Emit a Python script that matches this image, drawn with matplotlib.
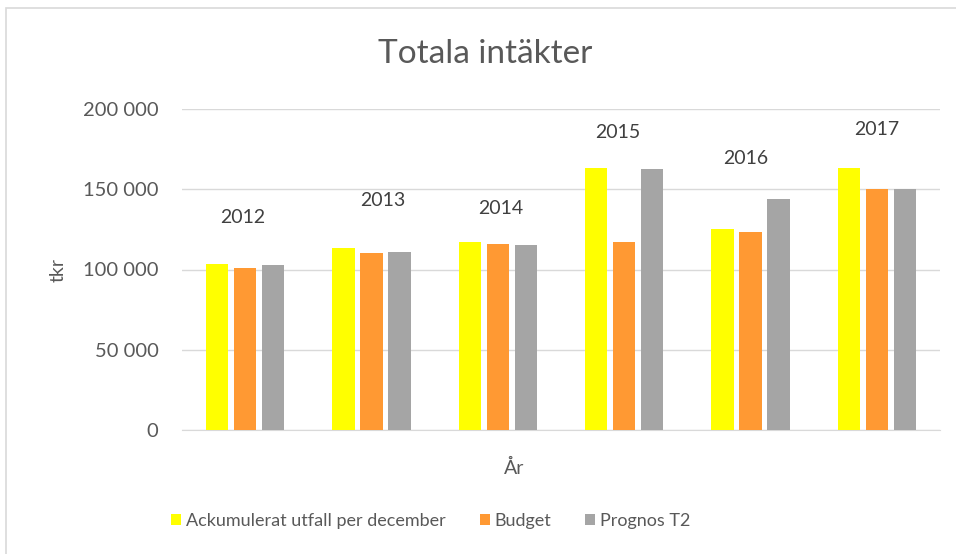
import numpy as np
import matplotlib.pyplot as plt
from matplotlib.patches import Rectangle

plt.rcParams["font.family"] = ["Lato", "DejaVu Sans"]

years = ["2012", "2013", "2014", "2015", "2016", "2017"]
utfall = [103500, 113500, 117300, 163000, 125000, 163500]
budget = [101000, 110000, 116000, 117300, 123500, 150300]
prognos = [102500, 111000, 115000, 162500, 143700, 150300]
series_names = ["Ackumulerat utfall per december", "Budget", "Prognos T2"]
colors = ["#FFFF00", "#FF9933", "#A5A5A5"]

# manually placed year labels in the original (value height, x nudge)
label_y = [132500, 143000, 138000, 185500, 169000, 187000]
label_dx = [-0.02, 0.09, 0.02, -0.05, -0.04, 0.0]

text_col = "#595959"

fig = plt.figure(figsize=(9.56, 5.54), dpi=100)
fig.patches.append(Rectangle((6 / 956, -0.1), 1.2, 1.1 - 8 / 554, transform=fig.transFigure,
                             fill=False, edgecolor="#d9d9d9", linewidth=1.2))
ax = fig.add_axes([182 / 956, 1 - 430 / 554, 758 / 956, 321 / 554])

x = np.arange(len(years))
width = 0.175
step = 0.222
for i, (vals, name, col) in enumerate(zip([utfall, budget, prognos], series_names, colors)):
    ax.bar(x + (i - 1) * step, vals, width, color=col, label=name, zorder=3)

for i, yr in enumerate(years):
    ax.text(x[i] + label_dx[i], label_y[i], yr, ha="center", va="center",
            fontsize=14, color="#404040")

ax.set_xlim(-0.5, 5.5)
ax.set_ylim(0, 200000)
ax.set_yticks(np.arange(0, 200001, 50000))
ax.set_yticklabels([f"{v:,}".replace(",", " ") for v in range(0, 200001, 50000)])
ax.set_xticks([])
ax.tick_params(axis="y", length=0, pad=17, labelsize=14.5, labelcolor=text_col)
ax.grid(axis="y", color="#d9d9d9", linewidth=1, zorder=0)
for side in ["top", "right", "left"]:
    ax.spines[side].set_visible(False)
ax.spines["bottom"].set_color("#d9d9d9")

fig.text(485 / 956, 1 - 54 / 554, "Totala intäkter", ha="center", va="center",
         fontsize=24, color=text_col)
fig.text(58 / 956, 1 - 270 / 554, "tkr", ha="center", va="center", rotation=90,
         fontsize=14, color=text_col)
fig.text(514 / 956, 1 - 468 / 554, "År", ha="center", va="center",
         fontsize=14, color=text_col)

leg = fig.legend(loc="center left", bbox_to_anchor=(155 / 956, 1 - 521 / 554), ncol=3,
                 frameon=False, fontsize=13, handlelength=0.55, handleheight=0.55,
                 handletextpad=0.25, columnspacing=1.9, labelcolor=text_col)

fig.savefig("out.png", dpi=100)
